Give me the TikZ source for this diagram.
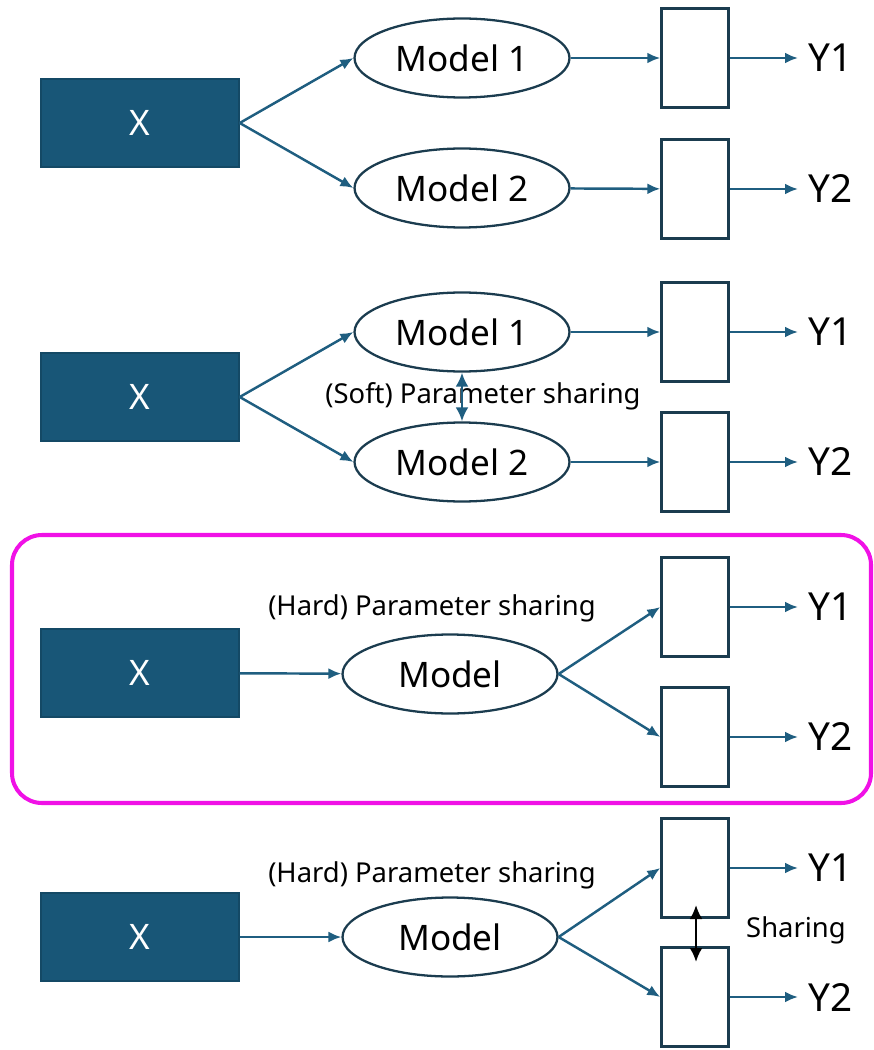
\documentclass[tikz,border=0pt]{standalone}
\usepackage{fontspec}
\setmainfont{Noto Sans}
\usetikzlibrary{shapes.geometric,arrows.meta}
\definecolor{xblue}{HTML}{185677}
\definecolor{arrowblue}{HTML}{1F5E80}
\definecolor{edgeblue}{HTML}{1B3C4F}
\definecolor{framepink}{HTML}{F011E6}

\begin{document}
\begin{tikzpicture}[x=0.02cm, y=-0.02cm,
  inputnode/.style={rectangle, fill=xblue, draw=xblue!85!black, line width=0.8pt, text=white, minimum width=3.96cm, minimum height=1.76cm, font=\fontsize{20}{24}\selectfont},
  modelnode/.style={ellipse, draw=edgeblue, line width=1.3pt, fill=white, minimum width=4.3cm, minimum height=1.58cm, inner sep=0pt, font=\fontsize{20}{24}\selectfont},
  headnode/.style={rectangle, draw=edgeblue, line width=1.4pt, minimum width=1.34cm, minimum height=1.98cm},
  outnode/.style={anchor=west, inner sep=0.2cm, font=\fontsize{22}{26}\selectfont},
  notenode/.style={inner sep=1pt, font=\fontsize{15.6}{18}\selectfont},
  link/.style={draw=arrowblue, line width=1.4pt, -{Latex[length=2.6mm,width=2.2mm]}},
  sharelink/.style={line width=1.5pt, {Latex[length=2.8mm,width=2.6mm]}-{Latex[length=2.8mm,width=2.6mm]}}]
\useasboundingbox (0,0) rectangle (874,1050);

\node[inputnode] (xa) at (140,123) {X};
\node[modelnode] (ma1) at (462,58) {Model 1};
\node[modelnode] (ma2) at (462,188) {Model 2};
\node[headnode] (ba1) at (695,58) {};
\node[headnode] (ba2) at (695,189) {};
\node[outnode] (ya1) at (798,58) {Y1};
\node[outnode] (ya2) at (798,189) {Y2};
\draw[link] (xa.east) -- (ma1.west);
\draw[link] (xa.east) -- (ma2.west);
\draw[link] (ma1) -- (ba1);
\draw[link] (ma2) -- (ba2);
\draw[link] (ba1) -- (ya1);
\draw[link] (ba2) -- (ya2);

\node[inputnode] (xb) at (140,397) {X};
\node[modelnode] (mb1) at (462,332) {Model 1};
\node[modelnode] (mb2) at (462,462) {Model 2};
\node[headnode] (bb1) at (695,332) {};
\node[headnode] (bb2) at (695,462) {};
\node[outnode] (yb1) at (798,332) {Y1};
\node[outnode] (yb2) at (798,462) {Y2};
\node[notenode] (soft) at (483,396) {(Soft) Parameter sharing};
\draw[link] (xb.east) -- (mb1.west);
\draw[link] (xb.east) -- (mb2.west);
\draw[link] (mb1) -- (bb1);
\draw[link] (mb2) -- (bb2);
\draw[link] (bb1) -- (yb1);
\draw[link] (bb2) -- (yb2);
\draw[sharelink, arrowblue] (mb1.south) -- (mb2.north);

\draw[framepink, line width=2.3pt, rounded corners=0.6cm] (12,535) rectangle (871,803);
\node[inputnode] (xc) at (140,673) {X};
\node[modelnode] (mc) at (450,674) {Model};
\node[headnode] (bc1) at (695,607) {};
\node[headnode] (bc2) at (695,737) {};
\node[outnode] (yc1) at (798,607) {Y1};
\node[outnode] (yc2) at (798,737) {Y2};
\node[notenode] (hardc) at (432,608) {(Hard) Parameter sharing};
\draw[link] (xc) -- (mc);
\draw[link] (mc.east) -- (bc1.west);
\draw[link] (mc.east) -- (bc2.west);
\draw[link] (bc1) -- (yc1);
\draw[link] (bc2) -- (yc2);

\node[inputnode] (xd) at (140,937) {X};
\node[modelnode] (md) at (450,937) {Model};
\node[headnode] (bd1) at (695,868) {};
\node[headnode] (bd2) at (695,997) {};
\node[outnode] (yd1) at (798,868) {Y1};
\node[outnode] (yd2) at (798,997) {Y2};
\node[notenode] (hardd) at (432,875) {(Hard) Parameter sharing};
\node[notenode] (shared) at (796,930) {Sharing};
\coordinate (sd1) at (696,905);
\coordinate (sd2) at (696,962);
\draw[link] (xd) -- (md);
\draw[link] (md.east) -- (bd1.west);
\draw[link] (md.east) -- (bd2.west);
\draw[link] (bd1) -- (yd1);
\draw[link] (bd2) -- (yd2);
\draw[sharelink, black] (sd1) -- (sd2);
\end{tikzpicture}
\end{document}
